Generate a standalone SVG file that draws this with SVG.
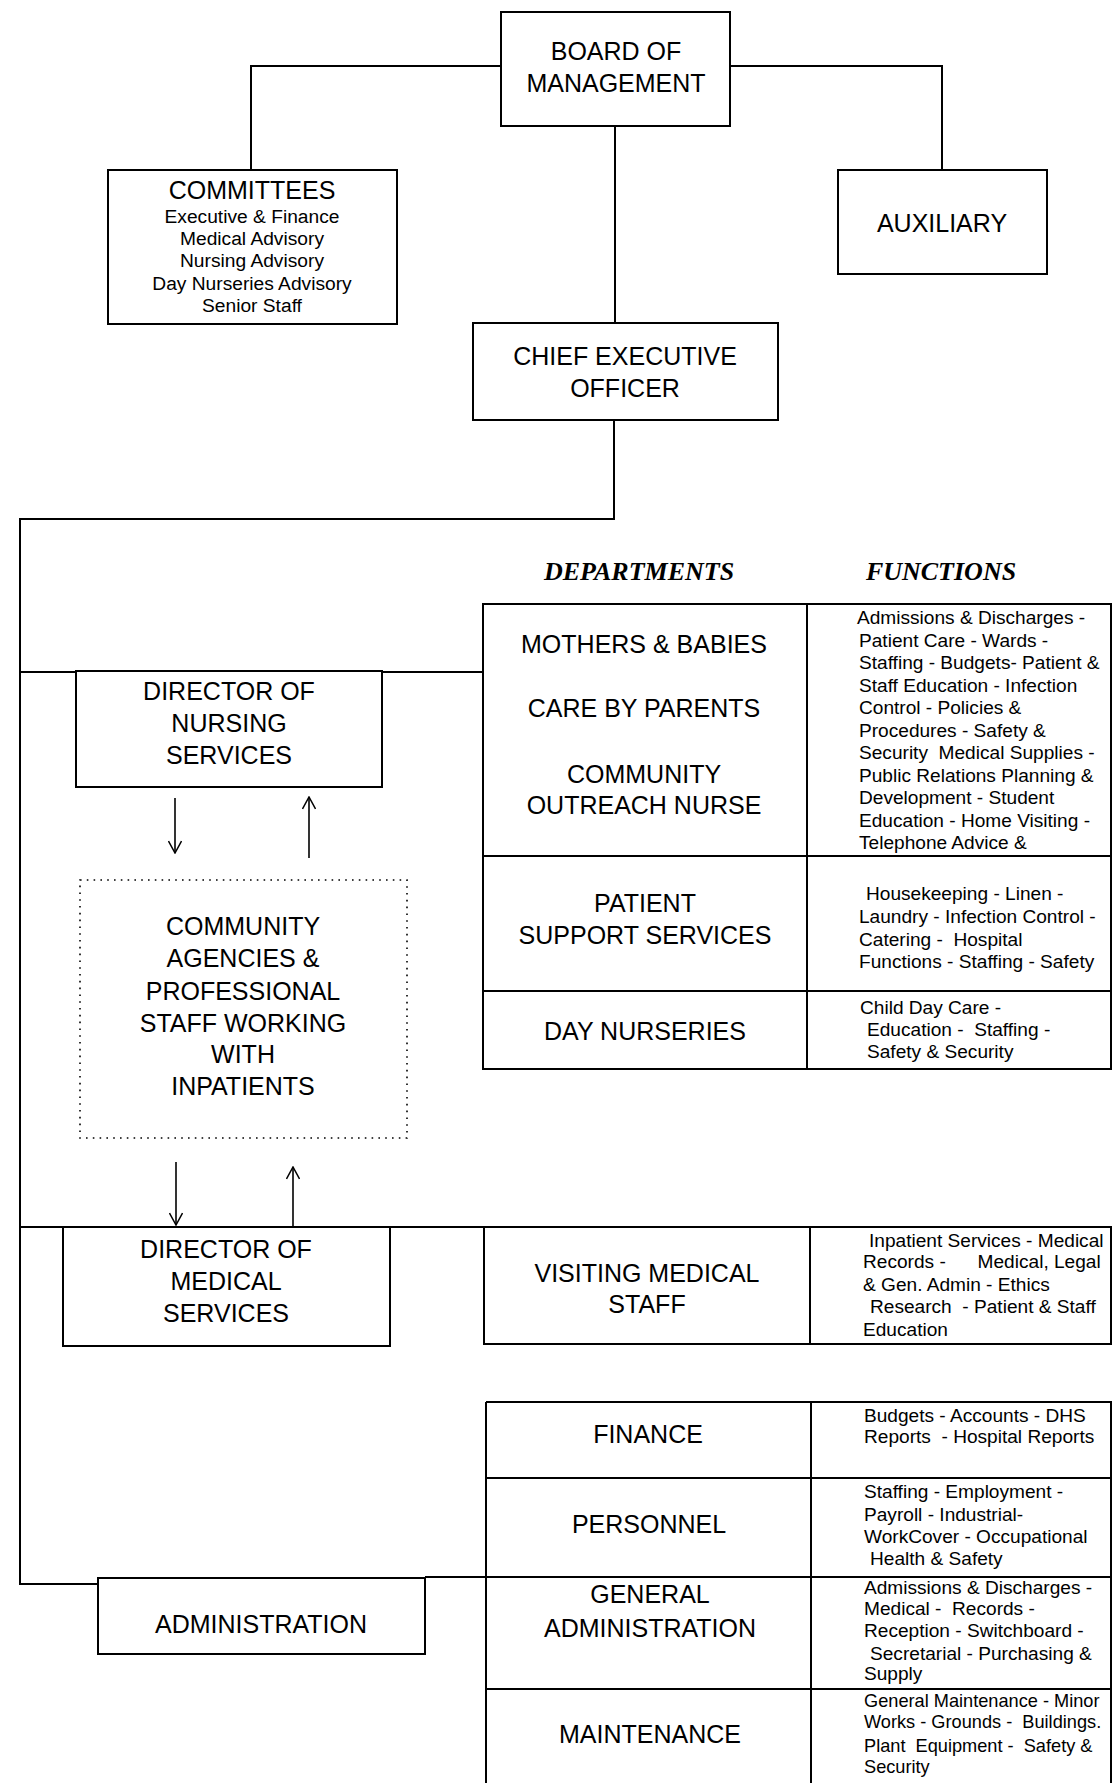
<svg xmlns="http://www.w3.org/2000/svg" width="1113" height="1783" viewBox="0 0 1113 1783">
<style>
.box{fill:#fff;stroke:#000;stroke-width:2}
.dot{fill:#fff;stroke:#000;stroke-width:1.6;stroke-dasharray:1.6 5.2}
.ln{fill:none;stroke:#000;stroke-width:2}
.ar{fill:none;stroke:#000;stroke-width:1.6}
.tl{fill:none;stroke:#000;stroke-width:2}
text{font-family:"Liberation Sans",Arial,sans-serif;fill:#000}
.lbl{font-size:25px;text-anchor:middle}
.sm{font-size:19.2px;text-anchor:middle}
.fn{font-size:19.1px;white-space:pre}
.fs{font-size:18.2px}
.hd{font-family:"Liberation Serif","Times New Roman",serif;font-weight:bold;font-style:italic;font-size:26px;text-anchor:middle}
</style>
<defs>
<marker id="ah" viewBox="0 0 14 14" refX="13" refY="7" markerWidth="14" markerHeight="14" markerUnits="userSpaceOnUse" orient="auto">
<path d="M1,0.5 L13,7 L1,13.5" fill="none" stroke="#000" stroke-width="1.5"/>
</marker>
</defs>
<rect width="1113" height="1783" fill="#fff"/>

<g id="connectors">
<path class="ln" d="M501,66 H251 V170"/>
<path class="ln" d="M730,66 H942 V170"/>
<path class="ln" d="M615,126 V323"/>
<path class="ln" d="M614,420 V519 H20 V1584 H98"/>
<path class="ln" d="M20,672 H483"/>
<path class="ln" d="M20,1227 H485"/>
<path class="ln" d="M425,1577 H486"/>
<path class="ar" d="M175,798 V853" marker-end="url(#ah)"/>
<path class="ar" d="M309,858 V797" marker-end="url(#ah)"/>
<path class="ar" d="M176,1162 V1225" marker-end="url(#ah)"/>
<path class="ar" d="M293,1227 V1167" marker-end="url(#ah)"/>
</g>

<g id="board">
<rect class="box" x="501" y="12" width="229" height="114"/>
<text class="lbl" x="616" y="60">BOARD OF</text>
<text class="lbl" x="616" y="92">MANAGEMENT</text>
</g>

<g id="committees">
<rect class="box" x="108" y="170" width="289" height="154"/>
<text class="lbl" x="252" y="199">COMMITTEES</text>
<text class="sm" x="252" y="223">Executive &amp; Finance</text>
<text class="sm" x="252" y="245">Medical Advisory</text>
<text class="sm" x="252" y="267">Nursing Advisory</text>
<text class="sm" x="252" y="290">Day Nurseries Advisory</text>
<text class="sm" x="252" y="312">Senior Staff</text>
</g>

<g id="auxiliary">
<rect class="box" x="838" y="170" width="209" height="104"/>
<text class="lbl" x="942" y="232">AUXILIARY</text>
</g>

<g id="ceo">
<rect class="box" x="473" y="323" width="305" height="97"/>
<text class="lbl" x="625" y="365">CHIEF EXECUTIVE</text>
<text class="lbl" x="625" y="397">OFFICER</text>
</g>

<g id="dir-nursing">
<rect class="box" x="76" y="671" width="306" height="116"/>
<text class="lbl" x="229" y="700">DIRECTOR OF</text>
<text class="lbl" x="229" y="732">NURSING</text>
<text class="lbl" x="229" y="764">SERVICES</text>
</g>

<g id="community">
<rect class="dot" x="80" y="880" width="327" height="258"/>
<text class="lbl" x="243" y="935">COMMUNITY</text>
<text class="lbl" x="243" y="967">AGENCIES &amp;</text>
<text class="lbl" x="243" y="1000">PROFESSIONAL</text>
<text class="lbl" x="243" y="1032">STAFF WORKING</text>
<text class="lbl" x="243" y="1063">WITH</text>
<text class="lbl" x="243" y="1095">INPATIENTS</text>
</g>

<g id="dir-medical">
<rect class="box" x="63" y="1227" width="327" height="119"/>
<text class="lbl" x="226" y="1258">DIRECTOR OF</text>
<text class="lbl" x="226" y="1290">MEDICAL</text>
<text class="lbl" x="226" y="1322">SERVICES</text>
</g>

<g id="administration">
<rect class="box" x="98" y="1578" width="327" height="76"/>
<text class="lbl" x="261" y="1633">ADMINISTRATION</text>
</g>

<g id="headers">
<text class="hd" x="639" y="580">DEPARTMENTS</text>
<text class="hd" x="941" y="580">FUNCTIONS</text>
</g>

<g id="nursing-departments">
<path class="tl" d="M483,604 H1111 V1069 H483 Z M807,604 V1069 M483,856 H1111 M483,991 H1111"/>
<text class="lbl" x="644" y="653">MOTHERS &amp; BABIES</text>
<text class="lbl" x="644" y="717">CARE BY PARENTS</text>
<text class="lbl" x="644" y="783">COMMUNITY</text>
<text class="lbl" x="644" y="814">OUTREACH NURSE</text>
<text class="fn" x="857" y="624">Admissions &amp; Discharges -</text>
<text class="fn" x="859" y="646.5">Patient Care - Wards -</text>
<text class="fn" x="859" y="669">Staffing - Budgets- Patient &amp;</text>
<text class="fn" x="859" y="691.5">Staff Education - Infection</text>
<text class="fn" x="859" y="714">Control - Policies &amp;</text>
<text class="fn" x="859" y="736.5">Procedures - Safety &amp;</text>
<text class="fn" x="859" y="759">Security  Medical Supplies -</text>
<text class="fn" x="859" y="781.5">Public Relations Planning &amp;</text>
<text class="fn" x="859" y="804">Development - Student</text>
<text class="fn" x="859" y="826.5">Education - Home Visiting -</text>
<text class="fn" x="859" y="849">Telephone Advice &amp;</text>
<text class="lbl" x="645" y="912">PATIENT</text>
<text class="lbl" x="645" y="944">SUPPORT SERVICES</text>
<text class="fn" x="866" y="900">Housekeeping - Linen -</text>
<text class="fn" x="859" y="923">Laundry - Infection Control -</text>
<text class="fn" x="859" y="946">Catering -  Hospital</text>
<text class="fn" x="859" y="968">Functions - Staffing - Safety</text>
<text class="lbl" x="645" y="1040">DAY NURSERIES</text>
<text class="fn" x="860" y="1014">Child Day Care -</text>
<text class="fn" x="867" y="1036">Education -  Staffing -</text>
<text class="fn" x="867" y="1058">Safety &amp; Security</text>
</g>

<g id="visiting-medical">
<path class="tl" d="M484,1227 H1111 V1344 H484 Z M810,1227 V1344"/>
<text class="lbl" x="647" y="1282">VISITING MEDICAL</text>
<text class="lbl" x="647" y="1313">STAFF</text>
<text class="fn" x="869" y="1247">Inpatient Services - Medical</text>
<text class="fn" x="863" y="1268">Records -      Medical, Legal</text>
<text class="fn" x="863" y="1291">&amp; Gen. Admin - Ethics</text>
<text class="fn" x="870" y="1313">Research  - Patient &amp; Staff</text>
<text class="fn" x="863" y="1336">Education</text>
</g>

<g id="admin-departments">
<path class="tl" d="M486,1402 H1111 V1783 M486,1402 V1783 M811,1402 V1783 M486,1478 H1111 M486,1577 H1111 M486,1689 H1111"/>
<text class="lbl" x="648" y="1443">FINANCE</text>
<text class="fn" x="864" y="1422">Budgets - Accounts - DHS</text>
<text class="fn" x="864" y="1443">Reports  - Hospital Reports</text>
<text class="lbl" x="649" y="1533">PERSONNEL</text>
<text class="fn" x="864" y="1498">Staffing - Employment -</text>
<text class="fn" x="864" y="1521">Payroll - Industrial-</text>
<text class="fn" x="864" y="1543">WorkCover - Occupational</text>
<text class="fn" x="870" y="1565">Health &amp; Safety</text>
<text class="lbl" x="650" y="1603">GENERAL</text>
<text class="lbl" x="650" y="1637">ADMINISTRATION</text>
<text class="fn" x="864" y="1594">Admissions &amp; Discharges -</text>
<text class="fn" x="864" y="1615">Medical -  Records -</text>
<text class="fn" x="864" y="1637">Reception - Switchboard -</text>
<text class="fn" x="870" y="1660">Secretarial - Purchasing &amp;</text>
<text class="fn" x="864" y="1680">Supply</text>
<text class="lbl" x="650" y="1743">MAINTENANCE</text>
<text class="fn fs" x="864" y="1707">General Maintenance - Minor</text>
<text class="fn fs" x="864" y="1728">Works - Grounds -  Buildings.</text>
<text class="fn fs" x="864" y="1752">Plant  Equipment -  Safety &amp;</text>
<text class="fn fs" x="864" y="1773">Security</text>
</g>
</svg>
